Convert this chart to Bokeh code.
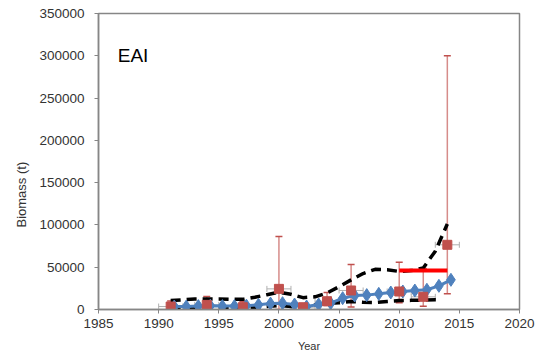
import math
from bokeh.plotting import figure
from bokeh.models import (ColumnDataSource, Whisker, TeeHead, Label, Title, FixedTicker,
                          BasicTickFormatter)
from bokeh.transform import dodge
from bokeh.embed import file_html
from bokeh.resources import INLINE

# ---- data ----
# observed (survey) biomass, red squares with error bars
obs_years = [1991, 1994, 1997, 2000, 2002, 2004, 2006, 2010, 2012, 2014]
obs_biomass = [3500, 5500, 2700, 24400, 2700, 9800, 22500, 21300, 15000, 76500]
obs_upper = [10000, 15400, 9100, 86300, 5000, 20000, 53200, 55900, 48500, 300000]
obs_lower = [0, 0, 0, 0, 0, 4700, 3000, 7900, 3900, 18500]
obs_year_err = [1, 1, 1, 1, 1, 1, 1, 1, 1, 1]

# model biomass, blue diamonds
model_years = [1991, 1992, 1993, 1994, 1995, 1996, 1997, 1998, 1999, 2000, 2001, 2002,
               2003, 2004, 2005, 2006, 2007, 2008, 2009, 2010, 2011, 2012, 2013, 2014]
model_biomass = [3500, 3500, 4000, 4500, 4000, 4000, 4500, 5500, 7000, 7500, 5900, 3500,
                 5900, 7500, 13400, 16500, 17000, 18500, 20100, 21300, 22400, 23300, 28000, 35100]

# confidence band (dashed)
upper_years = [1991, 1992, 1993, 1994, 1995, 1996, 1997, 1998, 1999, 2000, 2001, 2002,
               2003, 2004, 2005, 2006, 2007, 2008, 2009, 2010, 2011, 2012, 2013, 2014]
upper_band = [10500, 11500, 12500, 12500, 12500, 12000, 12000, 14500, 17500, 20500, 18000, 14000,
              15000, 19500, 27000, 35000, 42500, 47500, 47000, 45000, 46000, 49000, 69000, 101000]
lower_years = [1991, 1992, 1993, 1994, 1995, 1996, 1997, 1998, 1999, 2000, 2001, 2002,
               2003, 2004, 2005, 2006, 2007, 2008, 2009, 2010, 2011, 2012, 2013, 2013.5]
lower_band = [2700, 2000, 2000, 2000, 2000, 2000, 2000, 2500, 3500, 4700, 3500, 2000,
              5500, 7000, 8000, 9500, 8500, 8300, 9500, 10500, 10800, 11000, 11500, 11500]

# reference level (red bar)
ref_years = [2010, 2014]
ref_level = [46000, 46000]

x_ticks = [1985, 1990, 1995, 2000, 2005, 2010, 2015, 2020]
y_ticks = [0, 50000, 100000, 150000, 200000, 250000, 300000, 350000]

# ---- figure ----
FONT = "Liberation Sans"
p = figure(width=537, height=360, x_range=(1985, 2020), y_range=(0, 350000),
           output_backend="svg", toolbar_location=None,
           min_border_left=98, min_border_right=18, min_border_top=13, min_border_bottom=51)
p.xgrid.visible = False
p.ygrid.visible = False
p.outline_line_color = "#868686"
p.outline_line_width = 1.5
p.background_fill_color = "white"

for ax in (p.xaxis[0], p.yaxis[0]):
    ax.axis_line_color = "#868686"
    ax.axis_line_width = 1.5
    ax.major_tick_line_color = "#868686"
    ax.major_tick_in = 0
    ax.major_tick_out = 4
    ax.minor_tick_line_color = None
    ax.major_label_text_font = FONT
    ax.major_label_text_font_size = "13.5px"
    ax.major_label_text_color = "#333333"

p.xaxis.ticker = FixedTicker(ticks=x_ticks)
p.yaxis.ticker = FixedTicker(ticks=y_ticks)
p.yaxis.formatter = BasicTickFormatter(use_scientific=False)
p.xaxis.major_label_standoff = 5
p.yaxis.major_label_standoff = 10

p.xaxis.axis_label = "Year"
p.xaxis.axis_label_text_font = FONT
p.xaxis.axis_label_text_font_size = "11px"
p.xaxis.axis_label_text_font_style = "normal"
p.xaxis.axis_label_text_color = "#333333"
p.xaxis.axis_label_standoff = 9

# y axis title, placed in the left panel and shifted down like the reference
ytitle = Title(text="Biomass (t)", align="left", offset=82, text_font=FONT,
               text_font_size="13px", text_font_style="normal", text_color="#333333",
               standoff=16)
p.add_layout(ytitle, "left")

# dashed band
p.line(upper_years, upper_band, line_color="black", line_width=3.5, line_dash="10 6")
p.line(lower_years, lower_band, line_color="black", line_width=3.5, line_dash="10 6")

# model line
msrc = ColumnDataSource(dict(year=model_years, b=model_biomass))
p.line(x=dodge("year", 0.3, range=p.x_range), y="b", source=msrc,
       line_color="#4F81BD", line_width=3)
p.scatter(x=dodge("year", 0.3, range=p.x_range), y="b", source=msrc, marker="diamond",
          size=13, fill_color="#4F81BD", line_color="#4F81BD")

# reference line
p.line(ref_years, ref_level, line_color="#FF0000", line_width=4)

# observations with error bars
osrc = ColumnDataSource(dict(
    year=obs_years, b=obs_biomass, hi=obs_upper, lo=obs_lower,
    xl=[y - e for y, e in zip(obs_years, obs_year_err)],
    xh=[y + e for y, e in zip(obs_years, obs_year_err)],
))
hw = Whisker(base="b", lower="xl", upper="xh", dimension="width", source=osrc,
             line_color="#B0B0B0", line_width=1,
             upper_head=TeeHead(size=6, line_color="#B0B0B0", line_width=1),
             lower_head=TeeHead(size=6, line_color="#B0B0B0", line_width=1))
p.add_layout(hw)
vw = Whisker(base="year", lower="lo", upper="hi", dimension="height", source=osrc,
             line_color="#D68C8A", line_width=1.5,
             upper_head=TeeHead(size=7, line_color="#C0504D", line_width=1.5),
             lower_head=TeeHead(size=7, line_color="#C0504D", line_width=1.5))
p.add_layout(vw)
p.scatter(x="year", y="b", source=osrc, marker="square", size=9,
          fill_color="#C0504D", line_color="#C0504D")

# panel label
p.add_layout(Label(x=1986.6, y=300000, text="EAI", text_font=FONT, text_font_size="19px",
                   text_baseline="middle", text_align="left", text_color="black"))

open("out.html", "w").write(file_html(p, INLINE))
